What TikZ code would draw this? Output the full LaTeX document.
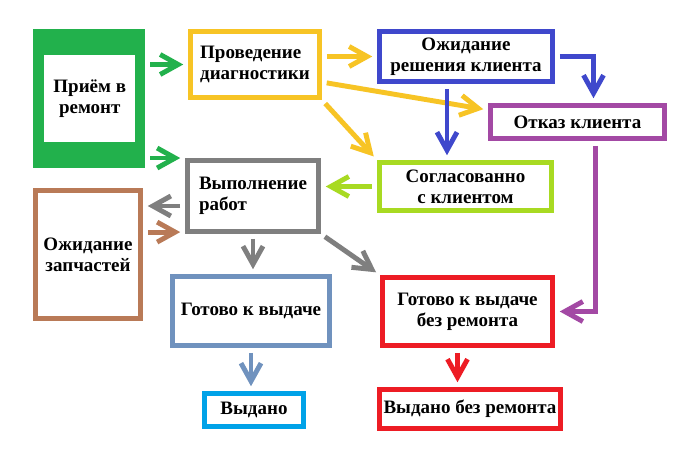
\documentclass[tikz,border=0pt]{standalone}
\usepackage{fontspec}
\setmainfont{Liberation Serif}
\usetikzlibrary{arrows.meta}
\definecolor{pgreen}{HTML}{22B14C}
\definecolor{pyellow}{HTML}{F7C425}
\definecolor{pblue}{HTML}{3F48CC}
\definecolor{ppurple}{HTML}{A349A4}
\definecolor{plime}{HTML}{A8DA22}
\definecolor{pgray}{HTML}{7F7F7F}
\definecolor{pbrown}{HTML}{B97A57}
\definecolor{psteel}{HTML}{7092BE}
\definecolor{pcyan}{HTML}{00A2E8}
\definecolor{pred}{HTML}{ED1C24}

\begin{document}
\begin{tikzpicture}[x=0.025cm,y=-0.025cm,
  box/.style={draw=#1,line width=3.5pt,fill=white,inner sep=0pt,align=center,
    font=\bfseries\fontsize{13.5}{15.2}\selectfont},
  flow/.style={draw=#1,line width=3.5pt,-{Straight Barb[length=4.5mm,width=5mm]},
    shorten <=1.2mm,shorten >=1.2mm}]
\fill[white] (0,0) rectangle (700,455);
\useasboundingbox (0,0) rectangle (700,455);
% boxes
\node[fill=pgreen,minimum width=2.8cm,minimum height=3.475cm] (recv) at (89,98.5) {};
\node[fill=white,inner sep=0pt,align=center,minimum width=2.275cm,minimum height=2.175cm,
  font=\bfseries\fontsize{13.5}{15.2}\selectfont] (recvin) at (89.75,98.5) {Приём в\\ремонт};
\node[box=pyellow,align=left,minimum width=3.225cm,minimum height=1.65cm] (diag) at (255,64.5) {Проведение\\диагностики};
\node[box=pblue,minimum width=4.325cm,minimum height=1.25cm] (wait) at (466,56.5) {Ожидание\\решения клиента};
\node[box=ppurple,minimum width=4.35cm,minimum height=0.825cm] (refuse) at (577.5,122) {Отказ клиента};
\node[box=plime,minimum width=4.3cm,minimum height=1.2cm] (agreed) at (465.5,186.5) {Согласованно\\с клиентом};
\node[box=pgray,align=left,minimum width=3.275cm,minimum height=1.775cm] (work) at (253,196) {Выполнение\\работ};
\node[box=pbrown,minimum width=2.625cm,minimum height=3.2cm] (parts) at (88,254.5) {Ожидание\\запчастей};
\node[box=psteel,minimum width=3.925cm,minimum height=1.725cm] (ready) at (251,311) {Готово к выдаче};
\node[box=pcyan,minimum width=2.475cm,minimum height=0.825cm] (issued) at (254,410) {Выдано};
\node[box=pred,minimum width=4.25cm,minimum height=1.7cm] (readyno) at (467.5,311.5) {Готово к выдаче\\без ремонта};
\node[box=pred,minimum width=4.525cm,minimum height=0.975cm] (issuedno) at (470,409) {Выдано без ремонта};
% connectors
\draw[flow=pgreen] (recv.east |- diag.west) -- (diag.west);
\draw[flow=pgreen] (recv.east |- work.north west) -- (work.north west);
\draw[flow=pyellow] (diag.east |- wait.west) -- (wait.west);
\draw[flow=pyellow] ([yshift=-0.44cm]diag.east) -- ([yshift=0.3cm]refuse.west);
\draw[flow=pyellow] (diag.south east) -- (agreed.north west);
\draw[flow=pblue] (wait.east) -| ([xshift=0.4cm]refuse.north);
\draw[flow=pblue] ([xshift=-0.475cm]wait.south) coordinate (wdown) -- (wdown |- agreed.north);
\draw[flow=ppurple] ([xshift=0.44cm]refuse.south) |- (readyno.east);
\draw[flow=plime] (agreed.west) -- (agreed.west -| work.east);
\draw[flow=pgray] ([yshift=-0.25cm]work.west) coordinate (wleft) -- (wleft -| parts.east);
\draw[flow=pbrown] ([yshift=0.56cm]parts.east) coordinate (pright) -- (pright -| work.west);
\draw[flow=pgray] (work.south) -- (work.south |- ready.north);
\draw[flow=pgray] (work.south east) -- (readyno.north west);
\draw[flow=psteel] (ready.south) -- (ready.south |- issued.north);
\draw[flow=pred] ([xshift=-0.25cm]readyno.south) coordinate (rdown) -- (rdown |- issuedno.north);
\end{tikzpicture}
\end{document}
